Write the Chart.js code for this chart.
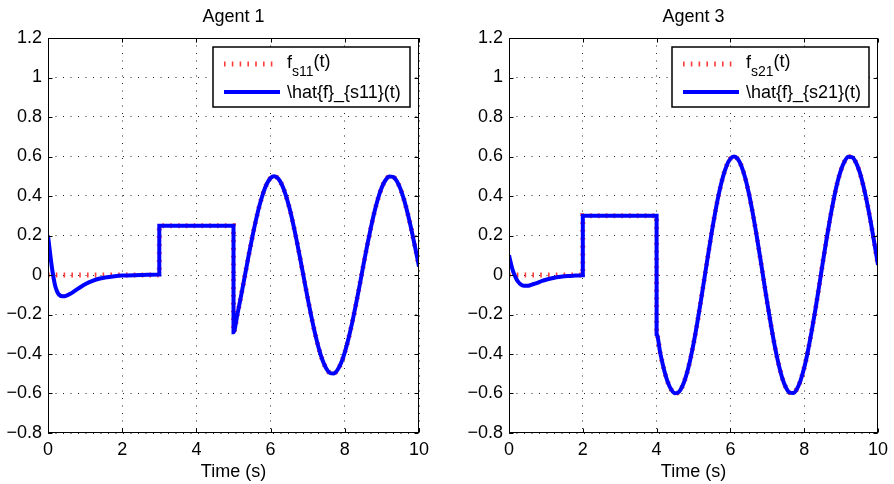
<!DOCTYPE html>
<html>
<head>
<meta charset="utf-8">
<script src="https://cdn.jsdelivr.net/npm/chart.js@4.4.0/dist/chart.umd.min.js"></script>
<style>
  html, body { margin: 0; padding: 0; background: #fff; }
  #wrap { position: relative; width: 894px; height: 484px; }
  .panel { position: absolute; top: 0; width: 447px; height: 484px; }
</style>
</head>
<body>
<div id="wrap">
  <div class="panel" style="left:0"><canvas id="agent1" width="447" height="484"></canvas></div>
  <div class="panel" style="left:447px"><canvas id="agent3" width="447" height="484"></canvas></div>
</div>
<script>
// --- axes ---
const xTicks = [0, 2, 4, 6, 8, 10];
const xTickLabels = ['0', '2', '4', '6', '8', '10'];
const yTicks = [-0.8, -0.6, -0.4, -0.2, 0, 0.2, 0.4, 0.6, 0.8, 1, 1.2];
const yTickLabels = ['\u22120.8', '\u22120.6', '\u22120.4', '\u22120.2', '0', '0.2', '0.4', '0.6', '0.8', '1', '1.2'];

// --- Agent 1 ---
const agent1Time = [
  0, 0.05, 0.1, 0.15, 0.2, 0.25, 0.3, 0.4, 0.5, 0.6, 0.7, 0.8, 0.9, 1.0, 1.2, 1.4, 1.6, 1.8, 2.0, 2.5, 3.0,
  3.0, 3.5, 4.0, 4.5, 5.0,
  5.0, 5.1, 5.2, 5.3, 5.4, 5.5, 5.6, 5.7, 5.8, 5.9, 6.0, 6.1, 6.2, 6.3, 6.4, 6.5, 6.6, 6.7, 6.8, 6.9,
  7.0, 7.1, 7.2, 7.3, 7.4, 7.5, 7.6, 7.7, 7.8, 7.9, 8.0, 8.1, 8.2, 8.3, 8.4, 8.5, 8.6, 8.7, 8.8, 8.9,
  9.0, 9.1, 9.2, 9.3, 9.4, 9.5, 9.6, 9.7, 9.8, 9.9, 10.0
];
const agent1True = [
  0, 0, 0, 0, 0, 0, 0, 0, 0, 0, 0, 0, 0, 0, 0, 0, 0, 0, 0, 0, 0,
  0.25, 0.25, 0.25, 0.25, 0.25,
  -0.290, -0.204, -0.109, -0.010, 0.090, 0.186, 0.274, 0.352, 0.415, 0.462, 0.491, 0.500, 0.489, 0.459, 0.410, 0.345, 0.266, 0.177, 0.080, -0.019,
  -0.118, -0.212, -0.298, -0.372, -0.432, -0.473, -0.496, -0.499, -0.482, -0.446, -0.392, -0.322, -0.240, -0.149, -0.052, 0.049, 0.146, 0.237, 0.320, 0.390,
  0.445, 0.481, 0.499, 0.497, 0.476, 0.436, 0.379, 0.308, 0.226, 0.136, 0.043
];
const agent1Est = [
  0.2, 0.12, 0.045, -0.015, -0.06, -0.085, -0.1, -0.108, -0.104, -0.095, -0.083, -0.07, -0.058, -0.047, -0.03, -0.018, -0.011, -0.006, -0.003, 0, 0.003,
  0.25, 0.25, 0.25, 0.25, 0.25,
  -0.290, -0.204, -0.109, -0.010, 0.090, 0.186, 0.274, 0.352, 0.415, 0.462, 0.491, 0.500, 0.489, 0.459, 0.410, 0.345, 0.266, 0.177, 0.080, -0.019,
  -0.118, -0.212, -0.298, -0.372, -0.432, -0.473, -0.496, -0.499, -0.482, -0.446, -0.392, -0.322, -0.240, -0.149, -0.052, 0.049, 0.146, 0.237, 0.320, 0.390,
  0.445, 0.481, 0.499, 0.497, 0.476, 0.436, 0.379, 0.308, 0.226, 0.136, 0.043
];

// --- Agent 3 ---
const agent3Time = [
  0, 0.05, 0.1, 0.15, 0.2, 0.25, 0.3, 0.4, 0.5, 0.6, 0.7, 0.8, 0.9, 1.0, 1.2, 1.4, 1.6, 1.8, 2.0,
  2.0, 2.5, 3.0, 3.5, 4.0,
  4.0, 4.1, 4.2, 4.3, 4.4, 4.5, 4.6, 4.7, 4.8, 4.9,
  5.0, 5.1, 5.2, 5.3, 5.4, 5.5, 5.6, 5.7, 5.8, 5.9, 6.0, 6.1, 6.2, 6.3, 6.4, 6.5, 6.6, 6.7, 6.8, 6.9,
  7.0, 7.1, 7.2, 7.3, 7.4, 7.5, 7.6, 7.7, 7.8, 7.9, 8.0, 8.1, 8.2, 8.3, 8.4, 8.5, 8.6, 8.7, 8.8, 8.9,
  9.0, 9.1, 9.2, 9.3, 9.4, 9.5, 9.6, 9.7, 9.8, 9.9, 10.0
];
const agent3True = [
  0, 0, 0, 0, 0, 0, 0, 0, 0, 0, 0, 0, 0, 0, 0, 0, 0, 0, 0,
  0.3, 0.3, 0.3, 0.3, 0.3,
  -0.299, -0.396, -0.478, -0.541, -0.581, -0.599, -0.593, -0.563, -0.511, -0.439,
  -0.349, -0.245, -0.131, -0.012, 0.107, 0.223, 0.329, 0.422, 0.498, 0.555, 0.589, 0.600, 0.587, 0.551, 0.492, 0.414, 0.319, 0.212, 0.097, -0.023,
  -0.142, -0.254, -0.357, -0.446, -0.518, -0.568, -0.595, -0.598, -0.578, -0.535, -0.470, -0.386, -0.287, -0.179, -0.062, 0.058, 0.175, 0.284, 0.383, 0.468,
  0.533, 0.577, 0.599, 0.596, 0.571, 0.523, 0.454, 0.369, 0.271, 0.163, 0.051
];
const agent3Est = [
  0.1, 0.06, 0.025, 0.0, -0.02, -0.035, -0.045, -0.055, -0.055, -0.05, -0.044, -0.037, -0.03, -0.024, -0.015, -0.009, -0.005, -0.003, -0.001,
  0.3, 0.3, 0.3, 0.3, 0.3,
  -0.299, -0.396, -0.478, -0.541, -0.581, -0.599, -0.593, -0.563, -0.511, -0.439,
  -0.349, -0.245, -0.131, -0.012, 0.107, 0.223, 0.329, 0.422, 0.498, 0.555, 0.589, 0.600, 0.587, 0.551, 0.492, 0.414, 0.319, 0.212, 0.097, -0.023,
  -0.142, -0.254, -0.357, -0.446, -0.518, -0.568, -0.595, -0.598, -0.578, -0.535, -0.470, -0.386, -0.287, -0.179, -0.062, 0.058, 0.175, 0.284, 0.383, 0.468,
  0.533, 0.577, 0.599, 0.596, 0.571, 0.523, 0.454, 0.369, 0.271, 0.163, 0.051
];

const FONT = "'Liberation Sans', Arial, Helvetica, sans-serif";
const RED = 'rgba(255, 25, 25, 0.85)';
const RED_DASH = [1.6, 6.2];
const BLUE = '#0000ff';

Chart.defaults.font.family = FONT;
Chart.defaults.font.size = 18;
Chart.defaults.color = '#000';

const toPoints = (xs, ys) => xs.map((x, i) => ({ x: x, y: ys[i] }));

// title, frame with inward ticks, and the boxed legend (MATLAB style)
const matlabAxes = {
    id: 'matlabAxes',
    afterDatasetsDraw(chart, args, opts) {
        const { ctx, chartArea: a, scales } = chart;
        ctx.save();
        ctx.strokeStyle = '#000';
        ctx.lineWidth = 1;
        const L = Math.round(a.left) + 0.5, R = Math.round(a.right) - 0.5;
        const T = Math.round(a.top) + 0.5, B = Math.round(a.bottom) - 0.5;
        ctx.strokeRect(L, T, R - L, B - T);
        ctx.beginPath();
        xTicks.forEach(v => {
            const px = Math.round(scales.x.getPixelForValue(v)) + 0.5;
            ctx.moveTo(px, B); ctx.lineTo(px, B - 4);
            ctx.moveTo(px, T); ctx.lineTo(px, T + 4);
        });
        yTicks.forEach(v => {
            const py = Math.round(scales.y.getPixelForValue(v)) + 0.5;
            ctx.moveTo(L, py); ctx.lineTo(L + 4, py);
            ctx.moveTo(R, py); ctx.lineTo(R - 4, py);
        });
        ctx.stroke();

        // title
        ctx.fillStyle = '#000';
        ctx.font = '18px ' + FONT;
        ctx.textAlign = 'center';
        ctx.textBaseline = 'middle';
        ctx.fillText(opts.title, (a.left + a.right) / 2, 17);

        // legend box
        const w = 197, h = 60;
        const bx = Math.round(a.right) - 9 - w, by = Math.round(a.top) + 9;
        ctx.fillStyle = '#fff';
        ctx.fillRect(bx, by, w, h);
        ctx.lineWidth = 1.5;
        ctx.strokeRect(bx, by, w, h);

        // red dotted sample
        ctx.beginPath();
        ctx.strokeStyle = RED;
        ctx.lineWidth = 5;
        ctx.setLineDash(RED_DASH);
        ctx.moveTo(bx + 11, by + 17); ctx.lineTo(bx + 64, by + 17);
        ctx.stroke();
        ctx.setLineDash([]);
        // blue sample
        ctx.beginPath();
        ctx.strokeStyle = BLUE;
        ctx.lineWidth = 4;
        ctx.moveTo(bx + 11, by + 45); ctx.lineTo(bx + 67, by + 45);
        ctx.stroke();

        // labels
        ctx.fillStyle = '#000';
        ctx.textAlign = 'left';
        ctx.textBaseline = 'alphabetic';
        let tx = bx + 74;
        ctx.font = '18px ' + FONT;
        ctx.fillText('f', tx, by + 21);
        tx += ctx.measureText('f').width;
        ctx.font = '14px ' + FONT;
        ctx.fillText(opts.sub, tx, by + 29);
        tx += ctx.measureText(opts.sub).width;
        ctx.font = '18px ' + FONT;
        ctx.fillText('(t)', tx, by + 20);
        ctx.fillText(opts.estLabel, bx + 74, by + 51);
        ctx.restore();
    }
};

function makeChart(id, time, truth, est, title, sub, estLabel, yWidth, padRight) {
    return new Chart(document.getElementById(id), {
        type: 'line',
        data: {
            datasets: [
                { label: estLabel, data: toPoints(time, est), borderColor: BLUE, borderWidth: 4,
                  pointRadius: 0, cubicInterpolationMode: 'monotone', order: 0 },
                { label: 'f_{' + sub + '}(t)', data: toPoints(time, truth), borderColor: RED, borderWidth: 5,
                  borderDash: RED_DASH, borderCapStyle: 'butt', pointRadius: 0,
                  cubicInterpolationMode: 'monotone', order: 1 }
            ]
        },
        options: {
            responsive: false,
            animation: false,
            layout: { padding: { top: 38, right: padRight, left: 0, bottom: 0 } },
            plugins: {
                legend: { display: false },
                tooltip: { enabled: false },
                matlabAxes: { title: title, sub: sub, estLabel: estLabel }
            },
            scales: {
                x: {
                    type: 'linear', min: 0, max: 10,
                    afterBuildTicks: s => { s.ticks = xTicks.map(v => ({ value: v })); },
                    afterFit: s => { s.height = 51; },
                    ticks: { padding: 6, maxRotation: 0, autoSkip: false, callback: (v, i) => xTickLabels[i] },
                    grid: { color: 'rgba(0,0,0,0.85)', lineWidth: 1, drawTicks: false },
                    border: { display: false, dash: [1, 6.5] },
                    title: { display: true, text: 'Time (s)', padding: { top: 0, bottom: 1 } }
                },
                y: {
                    min: -0.8, max: 1.2,
                    afterBuildTicks: s => { s.ticks = yTicks.map(v => ({ value: v })); },
                    afterFit: s => { s.width = yWidth; },
                    ticks: { padding: 6, autoSkip: false, callback: (v, i) => yTickLabels[i] },
                    grid: { color: 'rgba(0,0,0,0.85)', lineWidth: 1, drawTicks: false },
                    border: { display: false, dash: [1, 6.5] }
                }
            }
        },
        plugins: [matlabAxes]
    });
}

makeChart('agent1', agent1Time, agent1True, agent1Est, 'Agent 1', 's11', '\\hat{f}_{s11}(t)', 48, 28);
makeChart('agent3', agent3Time, agent3True, agent3Est, 'Agent 3', 's21', '\\hat{f}_{s21}(t)', 62, 13);
</script>
</body>
</html>
